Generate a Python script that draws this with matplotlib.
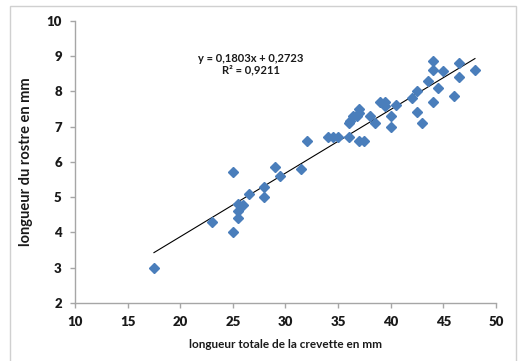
import matplotlib
matplotlib.use("Agg")
import matplotlib.pyplot as plt
import numpy as np
from matplotlib.patches import Rectangle

# Data
longueur_totale = [17.5, 23.0, 25.0, 25.0, 25.5, 25.5, 25.5, 26.0, 26.5, 28.0, 28.0,
                   29.0, 29.5, 31.5, 32.0, 34.0, 34.5, 35.0, 36.0, 36.0, 36.1, 36.4,
                   36.8, 37.0, 37.0, 37.0, 37.5, 38.0, 38.5, 39.0, 39.5, 39.5, 40.0,
                   40.0, 40.5, 42.0, 42.5, 42.5, 43.0, 43.5, 44.0, 44.0, 44.0, 44.5,
                   45.0, 46.0, 46.5, 46.5, 48.0]
longueur_rostre = [3.0, 4.3, 4.0, 5.7, 4.42, 4.61, 4.81, 4.78, 5.1, 5.29, 5.0,
                   5.86, 5.6, 5.8, 6.6, 6.7, 6.7, 6.7, 6.7, 7.1, 7.17, 7.3,
                   7.3, 7.38, 7.49, 6.6, 6.6, 7.3, 7.1, 7.7, 7.7, 7.58, 7.3,
                   7.0, 7.6, 7.8, 8.02, 7.41, 7.11, 8.3, 8.86, 8.6, 7.7, 8.1,
                   8.57, 7.87, 8.79, 8.41, 8.6]
pente = 0.1803
ordonnee = 0.2723
r2 = 0.9211
x_ticks = [10, 15, 20, 25, 30, 35, 40, 45, 50]
y_ticks = [2, 3, 4, 5, 6, 7, 8, 9, 10]

plt.rcParams['font.family'] = ['Lato', 'DejaVu Sans']

fig = plt.figure(figsize=(5.2, 3.61), dpi=100)
fig.patches.append(Rectangle((9.5/520, -0.05), (516-9.5)/520, 1-6/361+0.05,
                             transform=fig.transFigure, fill=False,
                             edgecolor='#d0d0d0', linewidth=1.0, zorder=0))
ax = fig.add_axes([75/520, 1-303/361, (496-75)/520, (303-20.7)/361])

ax.plot(longueur_totale, longueur_rostre, linestyle='none', marker='D',
        markersize=4.6, color='#4a7ebb', markeredgecolor='#4a7ebb', zorder=3)

xl = np.array([min(longueur_totale), max(longueur_totale)])
ax.plot(xl, pente*xl + ordonnee, color='black', linewidth=0.8, zorder=2)

ax.set_xlim(10, 50)
ax.set_ylim(2, 10)
ax.set_xticks(x_ticks)
ax.set_yticks(y_ticks)
ax.set_xticklabels([str(t) for t in x_ticks], fontweight='heavy', fontsize=9.5, color='#1a1a1a')
ax.set_yticklabels([str(t) for t in y_ticks], fontweight='heavy', fontsize=9.5, color='#1a1a1a')

for s in ['top', 'right']:
    ax.spines[s].set_visible(False)
for s in ['left', 'bottom']:
    ax.spines[s].set_color('#a6a6a6')
    ax.spines[s].set_linewidth(1.0)
ax.tick_params(axis='both', direction='out', length=3.5, width=1.0, color='#a6a6a6')
ax.tick_params(axis='x', pad=6)
ax.tick_params(axis='y', pad=6)

ax.set_xlabel('longueur totale de la crevette en mm', fontweight='bold', fontsize=8.5,
              color='#1a1a1a', labelpad=8)
ax.set_ylabel('longueur du rostre en mm', fontweight='bold', fontsize=10.5,
              color='#1a1a1a', labelpad=10)

eq1 = 'y = %sx + %s' % (str(pente).replace('.', ','), str(ordonnee).replace('.', ','))
eq2 = 'R² = %s' % str(r2).replace('.', ',')
ax.text(251/520, 1-64/361, eq1, transform=fig.transFigure, ha='center', va='bottom',
        fontsize=8, fontweight='bold', color='#1a1a1a')
ax.text(251/520, 1-64/361, eq2, transform=fig.transFigure, ha='center', va='top',
        fontsize=8, fontweight='bold', color='#1a1a1a')

fig.savefig('out.png', dpi=100)
